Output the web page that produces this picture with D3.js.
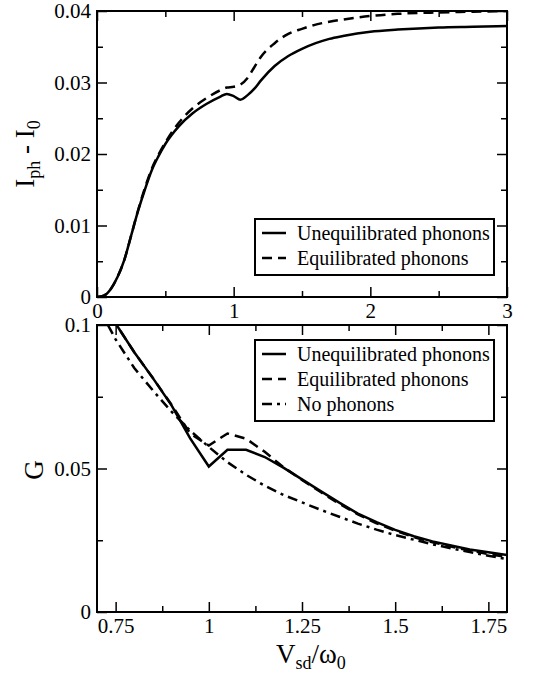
<!DOCTYPE html>
<html>
<head>
<meta charset="utf-8">
<script src="https://cdn.jsdelivr.net/npm/d3@7"></script>
<style>
  body { margin: 0; background: #fff; }
  svg { display: block; }
</style>
</head>
<body>
<main></main>
<script>
// top panel: I_ph - I_0 versus V_sd/w0
const topV = [0, 0.05, 0.1, 0.15, 0.2, 0.25, 0.3, 0.35, 0.4, 0.45, 0.5, 0.6, 0.7, 0.8, 0.9, 0.95,
    1.0, 1.05, 1.1, 1.15, 1.2, 1.3, 1.4, 1.5, 1.6, 1.7, 1.8, 2.0, 2.2, 2.5, 2.75, 3.0];
const topUneq = [0, 0.0002, 0.0011, 0.0028, 0.0052, 0.0086, 0.0120, 0.0150, 0.0177, 0.0197, 0.0214, 0.0239, 0.0257, 0.0270, 0.0280, 0.0284,
    0.0281, 0.0276, 0.0282, 0.0291, 0.0303, 0.0323, 0.0337, 0.0347, 0.0355, 0.0361, 0.0365, 0.0371, 0.0374, 0.0377, 0.0378, 0.0379];
const topEq = [0, 0.0002, 0.0011, 0.0028, 0.0052, 0.0086, 0.0121, 0.0152, 0.0179, 0.0199, 0.0216, 0.0244, 0.0264, 0.0278, 0.0289, 0.0293,
    0.0294, 0.0297, 0.0306, 0.0321, 0.0336, 0.0355, 0.0368, 0.0375, 0.0381, 0.0385, 0.0388, 0.0393, 0.0396, 0.0398, 0.0399, 0.0400];

// bottom panel: G versus V_sd/w0
const botV = [0.7, 0.75, 0.8, 0.85, 0.9, 0.95, 1.0, 1.05, 1.1, 1.15, 1.2, 1.25, 1.3, 1.35, 1.4, 1.45, 1.5, 1.55, 1.6, 1.65, 1.7, 1.75, 1.8];
const botUneq = [0.1125, 0.1005, 0.0905, 0.0815, 0.0720, 0.0605, 0.0507, 0.0565, 0.0565, 0.0540, 0.0503, 0.0462, 0.0421, 0.0381, 0.0343, 0.0313, 0.0286, 0.0264, 0.0246, 0.0232, 0.0218, 0.0208, 0.0199];
const botEq = [0.1125, 0.1005, 0.0905, 0.0815, 0.0722, 0.0622, 0.0580, 0.0622, 0.0604, 0.0558, 0.0505, 0.0460, 0.0418, 0.0377, 0.0340, 0.0309, 0.0283, 0.0261, 0.0243, 0.0228, 0.0214, 0.0202, 0.0192];
const botNone = [0.107, 0.095, 0.085, 0.0772, 0.0698, 0.0632, 0.0575, 0.0522, 0.0478, 0.0440, 0.0408, 0.0382, 0.0356, 0.0332, 0.0308, 0.0287, 0.0268, 0.0252, 0.0236, 0.0222, 0.0209, 0.0196, 0.0184];

// ticks
const topXTicks = [0, 1, 2, 3];
const topXMinor = [0.5, 1.5, 2.5];
const topYTicks = [0, 0.01, 0.02, 0.03, 0.04];
const topYMinor = [0.005, 0.015, 0.025, 0.035];
const botXTicks = [0.75, 1, 1.25, 1.5, 1.75];
const botXMinor = [0.875, 1.125, 1.375, 1.625];
const botYTicks = [0, 0.05, 0.1];
const botYMinor = [0.025, 0.075];

const topLegend = ['Unequilibrated phonons', 'Equilibrated phonons'];
const botLegend = ['Unequilibrated phonons', 'Equilibrated phonons', 'No phonons'];

const W = 540, H = 681;
const left = 97, right = 507;
const dashes = ['none', '10,6', '10,5,3,5'];
const serif = "'Liberation Serif', 'Times New Roman', 'DejaVu Serif', serif";

const svg = d3.select('main')
    .append('svg')
    .attr('width', W)
    .attr('height', H)
    .style('font-family', serif);

const panel = function(top, bottom, xDom, yDom, xTicks, xMinor, yTicks, yMinor, id){
    const x = d3.scaleLinear().domain(xDom).range([left, right]);
    const y = d3.scaleLinear().domain(yDom).range([bottom, top]);
    const fmt = d => String(d);

    svg.append('clipPath').attr('id', id)
        .append('rect')
        .attr('x', left).attr('y', top)
        .attr('width', right - left).attr('height', bottom - top);

    const sides = [
        ['bottom', bottom, true, xTicks, xMinor],
        ['top', top, false, xTicks, xMinor],
        ['left', left, true, yTicks, yMinor],
        ['right', right, false, yTicks, yMinor]
    ];
    const make = s => s === 'bottom' ? d3.axisBottom(x) : s === 'top' ? d3.axisTop(x) : s === 'left' ? d3.axisLeft(y) : d3.axisRight(y);
    sides.forEach(a => {
        const [side, pos, labels, maj, min] = a;
        const tr = (side === 'bottom' || side === 'top') ? 'translate(0,' + pos + ')' : 'translate(' + pos + ',0)';
        const g = svg.append('g').attr('transform', tr);
        g.call(make(side).tickValues(maj).tickSize(-10).tickPadding(6).tickFormat(labels ? fmt : ''));
        g.select('.domain').remove();
        g.attr('font-family', null).attr('font-size', null);
        g.selectAll('line').attr('stroke-width', 1.5);
        g.selectAll('text').style('font-size', '21px').style('font-family', serif);
        const m = svg.append('g').attr('transform', tr);
        m.call(make(side).tickValues(min).tickSize(-6).tickFormat(''));
        m.select('.domain').remove();
        m.selectAll('line').attr('stroke-width', 1.5);
    });

    svg.append('rect')
        .attr('x', left).attr('y', top)
        .attr('width', right - left).attr('height', bottom - top)
        .attr('fill', 'none')
        .attr('stroke', '#000')
        .attr('stroke-width', 2);

    return {x, y};
};

const drawLine = function(sc, xs, ys, dash, id, curve){
    const line = d3.line()
        .x((d, i) => sc.x(xs[i]))
        .y(d => sc.y(d))
        .curve(curve);
    svg.append('path')
        .datum(ys)
        .attr('clip-path', 'url(#' + id + ')')
        .attr('d', line)
        .attr('fill', 'none')
        .attr('stroke', '#000')
        .attr('stroke-width', 2.5)
        .attr('stroke-dasharray', dash);
};

const legend = function(x0, y0, w, rowH, names){
    const h = rowH * names.length + 6;
    svg.append('rect')
        .attr('x', x0).attr('y', y0)
        .attr('width', w).attr('height', h)
        .attr('fill', '#fff')
        .attr('stroke', '#000')
        .attr('stroke-width', 2);
    names.forEach((n, i) => {
        const cy = y0 + 14 + i * rowH;
        svg.append('line')
            .attr('x1', x0 + 7).attr('x2', x0 + 31)
            .attr('y1', cy).attr('y2', cy)
            .attr('stroke', '#000')
            .attr('stroke-width', 2.5)
            .attr('stroke-dasharray', dashes[i]);
        svg.append('text')
            .attr('x', x0 + 42).attr('y', cy)
            .attr('dy', '0.35em')
            .style('font-family', serif)
            .style('font-size', '20px')
            .text(n);
    });
};

// top panel
const t = panel(11, 297, [0, 3], [0, 0.04], topXTicks, topXMinor, topYTicks, topYMinor, 'clipTop');
drawLine(t, topV, topUneq, dashes[0], 'clipTop', d3.curveMonotoneX);
drawLine(t, topV, topEq, dashes[1], 'clipTop', d3.curveMonotoneX);
legend(255, 219, 239, 25, topLegend);

// bottom panel
const b = panel(325, 612, [0.7, 1.8], [0, 0.1], botXTicks, botXMinor, botYTicks, botYMinor, 'clipBot');
drawLine(b, botV, botUneq, dashes[0], 'clipBot', d3.curveLinear);
drawLine(b, botV, botEq, dashes[1], 'clipBot', d3.curveLinear);
drawLine(b, botV, botNone, dashes[2], 'clipBot', d3.curveLinear);
legend(255, 340, 239, 25, botLegend);

// axis titles
const ylab = svg.append('text')
    .attr('transform', 'translate(34,154) rotate(-90)')
    .attr('text-anchor', 'middle')
    .style('font-family', serif)
    .style('font-size', '27px');
ylab.append('tspan').text('I');
ylab.append('tspan').style('font-size', '18px').attr('dy', 6).text('ph');
ylab.append('tspan').attr('dy', -6).text(' - I');
ylab.append('tspan').style('font-size', '18px').attr('dy', 6).text('0');

svg.append('text')
    .attr('transform', 'translate(43,470) rotate(-90)')
    .attr('text-anchor', 'middle')
    .style('font-family', serif)
    .style('font-size', '27px')
    .text('G');

const xlab = svg.append('text')
    .attr('x', 276).attr('y', 663)
    .style('font-family', serif)
    .style('font-size', '27px');
xlab.append('tspan').text('V');
xlab.append('tspan').style('font-size', '18px').attr('dy', 6).text('sd');
xlab.append('tspan').attr('dy', -6).text('/ω');
xlab.append('tspan').style('font-size', '18px').attr('dy', 6).text('0');
</script>
</body>
</html>
